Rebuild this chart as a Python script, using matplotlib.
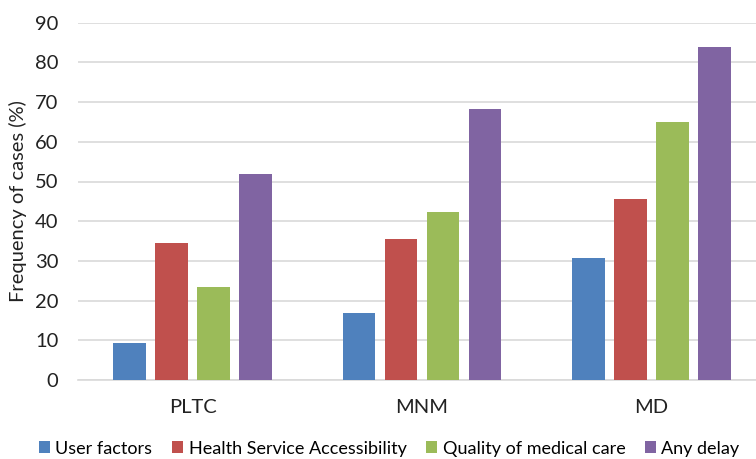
import numpy as np
import matplotlib.pyplot as plt

plt.rcParams['font.family'] = ['Lato', 'DejaVu Sans']

categories = ['PLTC', 'MNM', 'MD']
series_names = ['User factors', 'Health Service Accessibility',
                'Quality of medical care', 'Any delay']
user_factors = [9.3, 16.9, 30.8]
health_access = [34.4, 35.5, 45.6]
quality_care = [23.4, 42.3, 64.9]
any_delay = [51.9, 68.3, 84.0]
colors = ['#4F81BD', '#C0504D', '#9BBB59', '#8064A2']

fig = plt.figure(figsize=(7.56, 4.59), dpi=100)
ax = fig.add_axes([78 / 756, 79 / 459, 688 / 756, 357.3 / 459])

x = np.arange(len(categories))
step = 0.183
width = 0.143
values = [user_factors, health_access, quality_care, any_delay]
for i, (name, vals, c) in enumerate(zip(series_names, values, colors)):
    ax.bar(x + (i - 1.5) * step, vals, width, color=c, label=name, zorder=3)

ax.set_xlim(-0.5, 2.5)
ax.set_ylim(0, 90)
ax.set_yticks(range(0, 91, 10))
ax.set_xticks(x)
ax.set_xticklabels(categories)
ax.grid(axis='y', color='#D9D9D9', linewidth=1.2, zorder=0)
for s in ['top', 'right', 'left']:
    ax.spines[s].set_visible(False)
ax.spines['bottom'].set_color('#D9D9D9')
ax.spines['bottom'].set_linewidth(1.2)
ax.tick_params(axis='both', length=0, labelsize=14.5, colors='#222222')
ax.tick_params(axis='y', pad=14)
ax.tick_params(axis='x', pad=14)
ax.set_ylabel('Frequency of cases (%)', fontsize=14.5, color='#222222', labelpad=6)

fig.legend(loc='lower center', bbox_to_anchor=(0.515, -0.03), ncol=4,
           frameon=False, fontsize=13, handlelength=0.6, handleheight=0.6,
           handletextpad=0.3, columnspacing=1.1)

fig.savefig('out.png', dpi=100)
